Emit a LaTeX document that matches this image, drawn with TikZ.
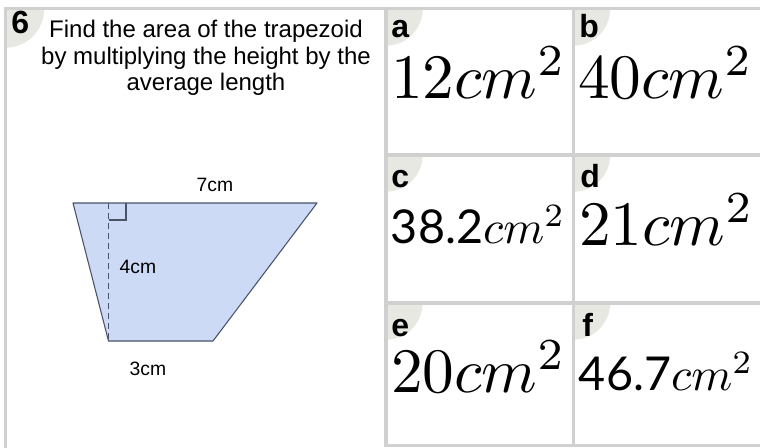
\documentclass[tikz,border=0pt]{standalone}
\usepackage{amsmath}
\usepackage[no-math]{fontspec}
\setmainfont{Liberation Sans}
\newfontfamily\numfont{Lato}
\usetikzlibrary{positioning}
\definecolor{WSGray}{RGB}{208,208,208}
\definecolor{WSDisc}{RGB}{232,232,226}
\definecolor{WSBlue}{RGB}{204,218,245}
\definecolor{WSEdge}{RGB}{72,82,104}

\begin{document}
\begin{tikzpicture}[x=0.75pt,y=-0.75pt,
          rule/.style={draw=WSGray, line width=2.4pt},
          disc/.style={fill=WSDisc},
          tag/.style={font=\fontsize{24}{26}\selectfont\bfseries,
                      anchor=base west, inner sep=0pt},
          big/.style={font=\fontsize{10}{12}\selectfont, scale=4.75,
                      anchor=base west, inner sep=0pt},
          mid/.style={font=\fontsize{10}{12}\selectfont, scale=3.5,
                      anchor=base west, inner sep=0pt},
          dim/.style={font=\fontsize{14.5}{16}\selectfont, inner sep=0pt}
        ]
        \useasboundingbox (0,0) rectangle (760,447);
        \fill[white] (0,0) rectangle (760,447);

        % corner discs
        \begin{scope}
          \clip (5.5,9) rectangle (386,447);
          \fill[disc] (5.5,9) circle (29pt);
        \end{scope}
        \begin{scope}
          \clip (386,9) rectangle (573.5,155);
          \fill[disc] (386,9) circle (27.5pt);
        \end{scope}
        \begin{scope}
          \clip (573.5,9) rectangle (762,155);
          \fill[disc] (573.5,9) circle (27.5pt);
        \end{scope}
        \begin{scope}
          \clip (386,155) rectangle (573.5,303);
          \fill[disc] (386,155) circle (27.5pt);
        \end{scope}
        \begin{scope}
          \clip (573.5,155) rectangle (762,303);
          \fill[disc] (573.5,155) circle (27.5pt);
        \end{scope}
        \begin{scope}
          \clip (386,303) rectangle (573.5,446);
          \fill[disc] (386,303) circle (27.5pt);
        \end{scope}
        \begin{scope}
          \clip (573.5,303) rectangle (762,446);
          \fill[disc] (573.5,303) circle (27.5pt);
        \end{scope}

        % grid
        \draw[rule] (5.5,448) -- (5.5,8.5) -- (762,8.5);
        \draw[rule] (386,8.5) -- (386,445.5) -- (762,445.5);
        \draw[rule] (573.5,8.5) -- (573.5,445.5);
        \draw[rule] (386,155) -- (762,155);
        \draw[rule] (386,303) -- (762,303);

        % QUESTION
        \node[tag] (num) at (11,33) {6};
        \node[font=\fontsize{18}{20}\selectfont, align=center,
              anchor=north, inner sep=0pt] (ask) at (206,20)
              {Find the area of the trapezoid\\
               by multiplying the height by the\\
               average length};

        % trapezoid
        \coordinate (tl) at (73,203);
        \coordinate (tr) at (317,203);
        \coordinate (br) at (213,341);
        \coordinate (bl) at (108.5,341);
        \coordinate (ft) at (108.5,203);
        \draw[fill=WSBlue, draw=WSEdge, line width=0.8pt, line join=round]
              (tl) -- (tr) -- (br) -- (bl) -- cycle;
        \draw[draw=WSEdge, line width=0.8pt, dash pattern=on 4.5pt off 3pt]
              (ft) -- (bl);
        \draw[draw=WSEdge, line width=0.8pt]
              (108.5,220) -- (126,220) -- (126,203);
        \node[dim] (top) at (215,185) {7cm};
        \node[dim] (hgt) at (138,267) {4cm};
        \node[dim] (bot) at (148,369) {3cm};

        % CHOICES
        \node[tag] (la) at (391,37) {a};
        \node[tag] (lb) at (579,37) {b};
        \node[tag] (lc) at (391,187) {c};
        \node[tag] (ld) at (580,187) {d};
        \node[tag] (le) at (391,336) {e};
        \node[tag] (lf) at (582,336) {f};
        \node[big] (aa) at (390,98) {$12cm^2$};
        \node[big] (ab) at (577,98) {$40cm^2$};
        \node[mid] (ac) at (390,243) {$\text{\numfont 38.2}cm^2$};
        \node[big] (ad) at (578,245) {$21cm^2$};
        \node[big] (ae) at (390,392) {$20cm^2$};
        \node[mid] (af) at (578,390) {$\text{\numfont 46.7}cm^2$};
      \end{tikzpicture}
\end{document}
